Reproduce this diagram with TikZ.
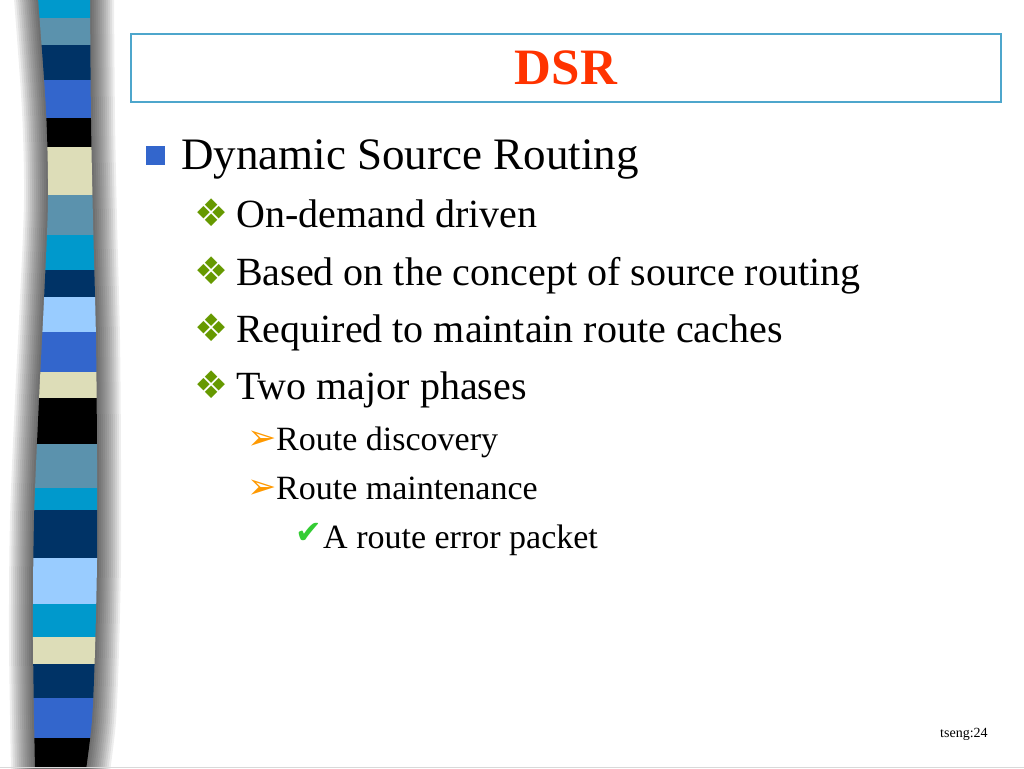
\documentclass[tikz,border=0pt]{standalone}
\usepackage{fontspec}
\setmainfont{Liberation Serif}
\newfontfamily\symfont{DejaVu Sans}
\usetikzlibrary{positioning}

\definecolor{stcyan}{HTML}{0099CC}
\definecolor{ststeel}{HTML}{5B92AD}
\definecolor{stnavy}{HTML}{003366}
\definecolor{stroyal}{HTML}{3366CC}
\definecolor{stbeige}{HTML}{DDDDB8}
\definecolor{stlight}{HTML}{99CCFF}
\definecolor{framecol}{HTML}{4DA6CC}
\definecolor{titlered}{HTML}{FF3300}
\definecolor{diagreen}{HTML}{669900}
\definecolor{arroworange}{HTML}{FF9900}
\definecolor{tickgreen}{HTML}{33CC33}

\newcommand{\barpath}{plot[smooth] coordinates {(38,-2) (46,110) (48,200) (44,300) (39,400) (34,520) (33,640) (35,770)}
  -- plot[smooth] coordinates {(86,770) (92,720) (95,650) (97,560) (97,460) (96,340) (93,220) (91,120) (90,-2)} -- cycle}

\begin{document}
\begin{tikzpicture}
	[   x=1pt,y=-1pt,
	    txt/.style={anchor=base west,inner sep=0pt,font=\fontsize{#1}{#1}\selectfont},
	    sym/.style={inner sep=0pt,font=\symfont\fontsize{#1}{#1}\selectfont},
	]
	\tikzset{frame box/.style={draw=framecol,line width=1.5pt,minimum width=870pt,minimum height=68pt,inner sep=0pt}}
	\useasboundingbox (0,0) rectangle (1024,768);
	
	% shadow of the bar
	\foreach \w in {4,8,...,48}
	{
		\draw[black,opacity=0.065,line width=\w pt] \barpath;
	}
	
	% stripes
	\begin{scope}
		\clip \barpath;
		\foreach \ya/\yb/\c in {0/18/stcyan,18/45/ststeel,45/80/stnavy,80/118/stroyal,118/147/black,147/195/stbeige,
			195/235/ststeel,235/270/stcyan,270/297/stnavy,297/332/stlight,332/372/stroyal,372/398/stbeige,
			398/444/black,444/488/ststeel,488/510/stcyan,510/558/stnavy,558/604/stlight,604/637/stcyan,
			637/664/stbeige,664/698/stnavy,698/738/stroyal,738/768/black}
		{
			\fill[\c] (0,\ya) rectangle (130,\yb);
		}
	\end{scope}
	\draw[black!15] (0,767) -- (1024,767);
	
	% title
	\node[frame box] (titlebox) at (566,68) {};
	\node[font=\fontsize{51}{51}\selectfont\bfseries,text=titlered] (title) at (titlebox) {DSR};
	
	% items
	\node[txt=45] (dsr) at (181,169) {Dynamic Source Routing};
	\fill[stroyal] (146,146) rectangle (165,165);
	
	\foreach \y/\t [count=\i] in {227/On-demand driven,285/Based on the concept of source routing,
		342/Required to maintain route caches,399/Two major phases}
	{
		\node[txt=40] (sub-\i) at (236,\y) {\t};
		\node[sym=38,text=diagreen] (dia-\i) at (212,\y-14) {❖};
	}
	
	\node[txt=34] (disc) at (276,450) {Route discovery};
	\node[sym=35,text=arroworange] (arr-1) at (262,440) {➢};
	\node[txt=34] (maint) at (276,499) {Route maintenance};
	\node[sym=35,text=arroworange] (arr-2) at (262,489) {➢};
	\node[txt=34] (rerr) at (323,548) {A route error packet};
	\node[sym=32,text=tickgreen] (tick) at (309,533) {✔};
	
	\node[txt=14] (page) at (940,737) {tseng:24};
\end{tikzpicture}
\end{document}
